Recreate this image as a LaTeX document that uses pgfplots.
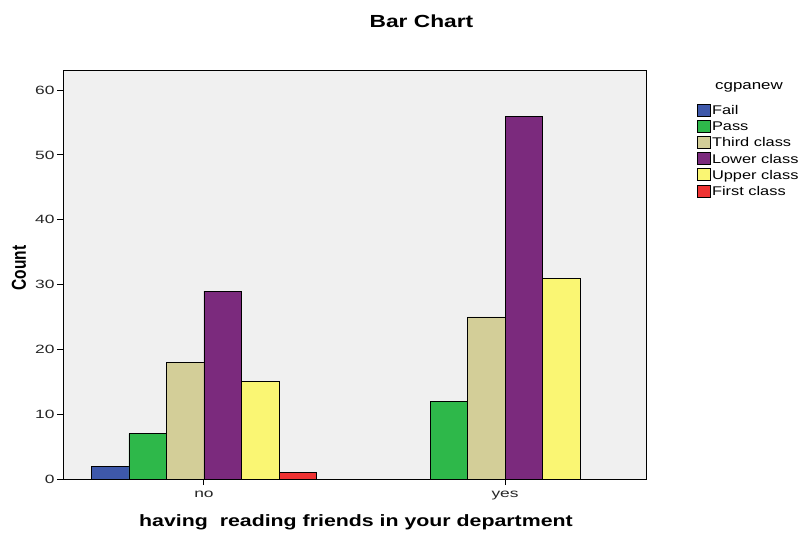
\documentclass[border=0pt]{standalone}
\usepackage{pgfplots}
\pgfplotsset{compat=1.18}
\usepackage{fontspec}
\setmainfont{Liberation Sans}[FakeStretch=1.3]
\newfontfamily\plainfont{Liberation Sans}
\newfontfamily\tickfont{Liberation Sans}[FakeStretch=1.45]
\definecolor{cfail}{RGB}{62,88,170}
\definecolor{cpass}{RGB}{46,184,74}
\definecolor{cthird}{RGB}{211,206,152}
\definecolor{clower}{RGB}{123,42,125}
\definecolor{cupper}{RGB}{250,246,115}
\definecolor{cfirst}{RGB}{238,50,50}
\definecolor{bgc}{RGB}{240,240,240}
\pgfplotsset{barleg/.style={legend image code/.code={\draw[##1,draw=black,line width=0.8pt] (0pt,-5pt) rectangle (13pt,7pt);}}}
\begin{document}
\begin{tikzpicture}[x=1pt,y=1pt]
\useasboundingbox (0,0) rectangle (802,533);
\begin{axis}[at={(63pt,54pt)}, anchor=south west, scale only axis,
  width=583pt, height=409pt,
  xmin=-0.468, xmax=1.468, ymin=0, ymax=63.1,
  ybar=0pt, bar width=37.5pt,
  axis background/.style={fill=bgc},
  axis line style={black, line width=0.9pt},
  xtick={0,1}, xticklabels={no,yes},
  ytick={0,10,20,30,40,50,60},
  tick align=outside, xtick pos=bottom, ytick pos=left,
  major tick length=6pt, tick style={black, line width=0.9pt},
  /pgf/number format/assume math mode=true,
  ticklabel style={font=\tickfont\fontsize{12}{14}\selectfont, text=black!85},
  xticklabel style={yshift=-3pt},
  yticklabel style={xshift=1pt},
  legend style={at={(1.0875,0.92)}, anchor=north west, draw=none, fill=none,
    font=\fontsize{12.6}{15}\selectfont, row sep=0pt, inner sep=0pt,
    nodes={inner sep=1pt, text height=10.5pt, text depth=3.7pt}},
  legend cell align=left,
  every axis plot/.append style={draw=black, line width=0.8pt},
]
\addplot[fill=cfail, barleg] coordinates {(0,2)};
\addplot[fill=cpass, barleg] coordinates {(0,7) (1,12)};
\addplot[fill=cthird, barleg] coordinates {(0,18) (1,25)};
\addplot[fill=clower, barleg] coordinates {(0,29) (1,56)};
\addplot[fill=cupper, barleg] coordinates {(0,15) (1,31)};
\addplot[fill=cfirst, barleg] coordinates {(0,1)};
\legend{Fail,Pass,Third class,Lower class,Upper class,First class}
\end{axis}
\node[font=\bfseries\fontsize{17.5}{20}\selectfont] at (421.5,512) {Bar Chart};
\node[font=\fontsize{13}{16}\selectfont] at (749,446) {cgpanew};
\node[font=\bfseries\fontsize{16.4}{19}\selectfont] at (356,11) {having\ \ reading friends in your department};
\node[font=\plainfont\bfseries\fontsize{15.5}{19}\selectfont, rotate=90] at (19,265) {\scalebox{1}[1.3]{Count}};
\end{tikzpicture}
\end{document}
